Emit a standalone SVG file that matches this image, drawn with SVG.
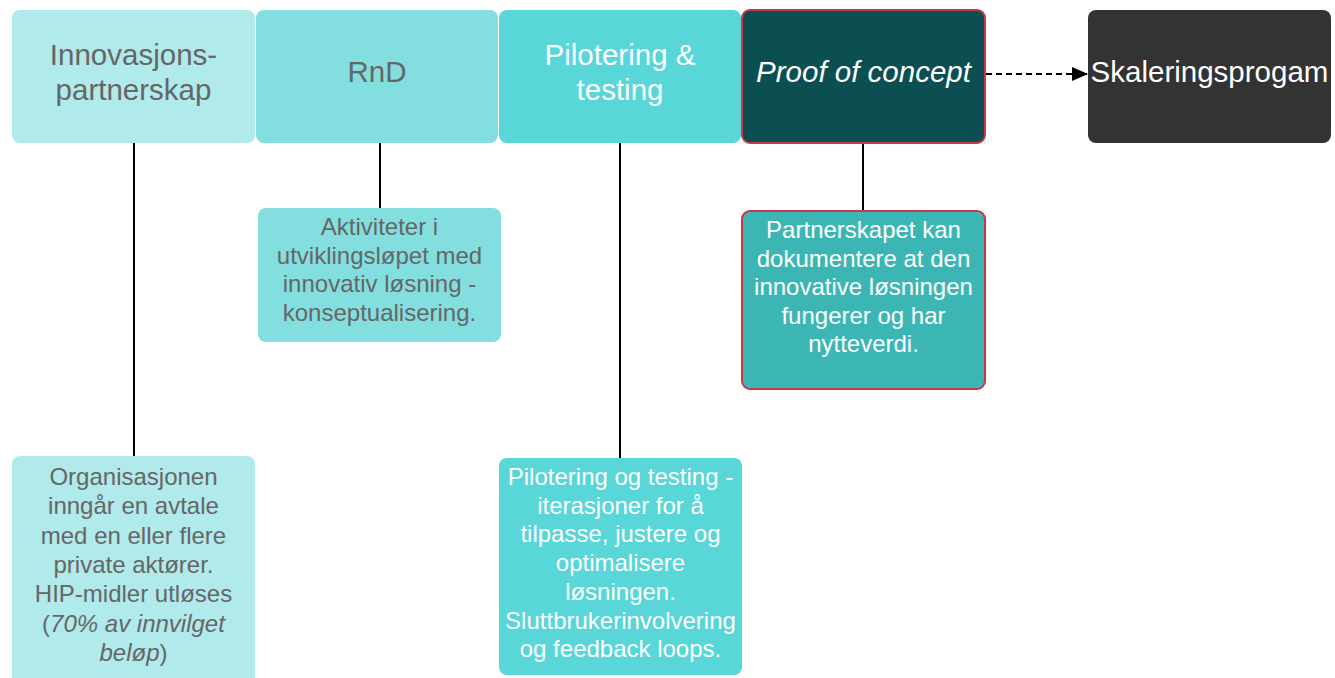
<svg xmlns="http://www.w3.org/2000/svg" width="1335" height="678" viewBox="0 0 1335 678">
  <defs>
    <marker id="arrow" markerWidth="16" markerHeight="14" refX="15" refY="7" orient="auto" markerUnits="userSpaceOnUse">
      <path d="M0,0 L16,7 L0,14 Z" fill="#000"/>
    </marker>
    <style>
      text { font-family: "Liberation Sans", Arial, sans-serif; text-anchor: middle; }
      .head { font-size: 29.5px; }
      .sub { font-size: 24px; }
      .grey { fill: #666666; }
      .white { fill: #ffffff; }
      .it { font-style: italic; }
      .link { stroke: #000; stroke-width: 2; fill: none; }
      .dash { stroke: #000; stroke-width: 2; fill: none; stroke-dasharray: 6 4; }
    </style>
  </defs>
  <rect width="1335" height="678" fill="#ffffff"/>

  <!-- connectors -->
  <g id="connectors">
    <line class="link" x1="134" y1="143" x2="134" y2="456"/>
    <line class="link" x1="380" y1="143" x2="380" y2="208"/>
    <line class="link" x1="620" y1="143" x2="620" y2="458"/>
    <line class="link" x1="863" y1="143" x2="863" y2="211"/>
    <line class="dash" x1="986" y1="74" x2="1087" y2="74" marker-end="url(#arrow)"/>
  </g>

  <!-- stage headers -->
  <g id="innovasjonspartnerskap">
    <rect x="12" y="10" width="243" height="133" rx="8" fill="#b0eaea"/>
    <text class="head grey" x="133.5" y="65">Innovasjons-</text>
    <text class="head grey" x="133.5" y="100">partnerskap</text>
  </g>
  <g id="rnd">
    <rect x="256" y="10" width="242" height="133" rx="8" fill="#83dfdf"/>
    <text class="head grey" x="377" y="82">RnD</text>
  </g>
  <g id="pilotering">
    <rect x="499" y="10" width="242" height="133" rx="8" fill="#58d6d8"/>
    <text class="head white" x="620" y="65">Pilotering &amp;</text>
    <text class="head white" x="620" y="100">testing</text>
  </g>
  <g id="proof-of-concept">
    <rect x="742" y="10" width="243" height="133" rx="8" fill="#0b4f52" stroke="#c8374a" stroke-width="2"/>
    <text class="head white it" x="863.5" y="82">Proof of concept</text>
  </g>
  <g id="skaleringsprogam">
    <rect x="1088" y="10" width="243" height="133" rx="8" fill="#333333"/>
    <text class="head white" x="1209.5" y="82">Skaleringsprogam</text>
  </g>

  <!-- stage descriptions -->
  <g id="rnd-detail">
    <rect x="258" y="208" width="243" height="134" rx="8" fill="#83dfdf"/>
    <text class="sub grey" x="379.5" y="235">Aktiviteter i</text>
    <text class="sub grey" x="379.5" y="263.5">utviklingsløpet med</text>
    <text class="sub grey" x="379.5" y="292">innovativ løsning -</text>
    <text class="sub grey" x="379.5" y="320.5">konseptualisering.</text>
  </g>
  <g id="poc-detail">
    <rect x="742" y="211" width="243" height="178" rx="8" fill="#3cb6b5" stroke="#c8374a" stroke-width="2"/>
    <text class="sub white" x="863.5" y="238">Partnerskapet kan</text>
    <text class="sub white" x="863.5" y="266.5">dokumentere at den</text>
    <text class="sub white" x="863.5" y="295">innovative løsningen</text>
    <text class="sub white" x="863.5" y="323.5">fungerer og har</text>
    <text class="sub white" x="863.5" y="352">nytteverdi.</text>
  </g>
  <g id="partnerskap-detail">
    <rect x="12" y="456" width="243" height="230" rx="8" fill="#b0eaea"/>
    <text class="sub grey" x="133.5" y="485">Organisasjonen</text>
    <text class="sub grey" x="133.5" y="514.3">inngår en avtale</text>
    <text class="sub grey" x="133.5" y="543.6">med en eller flere</text>
    <text class="sub grey" x="133.5" y="572.9">private aktører.</text>
    <text class="sub grey" x="133.5" y="602.2">HIP-midler utløses</text>
    <text class="sub grey" x="133.5" y="631.5">(<tspan class="it">70% av innvilget</tspan></text>
    <text class="sub grey" x="133.5" y="660.8"><tspan class="it">beløp</tspan>)</text>
  </g>
  <g id="pilotering-detail">
    <rect x="499" y="458" width="243" height="217" rx="8" fill="#58d6d8"/>
    <text class="sub white" x="620.5" y="485">Pilotering og testing -</text>
    <text class="sub white" x="620.5" y="513.7">iterasjoner for å</text>
    <text class="sub white" x="620.5" y="542.4">tilpasse, justere og</text>
    <text class="sub white" x="620.5" y="571.1">optimalisere</text>
    <text class="sub white" x="620.5" y="599.8">løsningen.</text>
    <text class="sub white" x="620.5" y="628.5">Sluttbrukerinvolvering</text>
    <text class="sub white" x="620.5" y="657.2">og feedback loops.</text>
  </g>
</svg>
